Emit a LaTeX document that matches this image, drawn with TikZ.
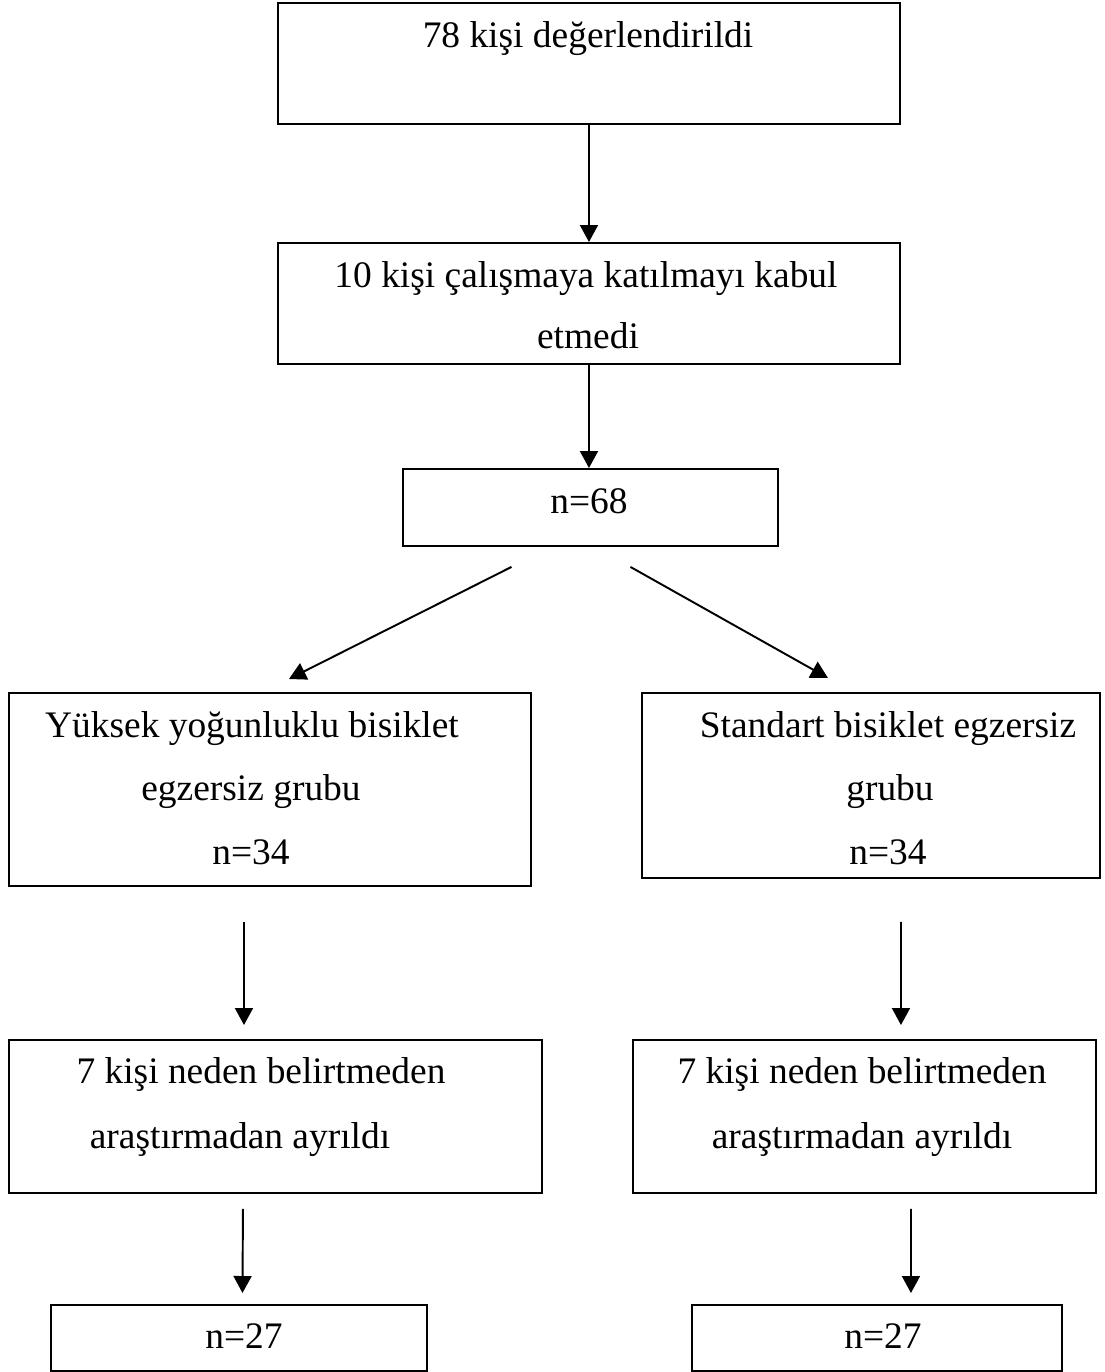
\documentclass[tikz,border=0pt]{standalone}
\usepackage{fontspec}
\setmainfont{Liberation Serif}
\usetikzlibrary{calc,arrows.meta}
\newcommand{\px}{0.02cm}
\tikzset{
  box/.style={draw=black, line width=1.1pt, rectangle, inner sep=0pt, anchor=north west},
  txt/.style={font=\fontsize{21.3}{25}\selectfont, inner sep=0pt, anchor=base},
  arr/.style={draw=black, line width=1.1pt, -{Triangle[length=0.34cm, width=0.36cm]}},
}
\begin{document}
\begin{tikzpicture}[x=\px, y=-\px]
  \useasboundingbox (0,0) rectangle (1105,1372);
  % boxes
  \node[box, minimum width=622*\px, minimum height=121*\px] (deg) at (277,2) {};
  \node[box, minimum width=622*\px, minimum height=121*\px] (kat) at (277,242) {};
  \node[box, minimum width=375*\px, minimum height=77*\px] (n68) at (402,468) {};
  \node[box, minimum width=522*\px, minimum height=193*\px] (yuk) at (8,692) {};
  \node[box, minimum width=458*\px, minimum height=185*\px] (std) at (641,692) {};
  \node[box, minimum width=533*\px, minimum height=153*\px] (ayrA) at (8,1039) {};
  \node[box, minimum width=463*\px, minimum height=153*\px] (ayrB) at (632,1039) {};
  \node[box, minimum width=376*\px, minimum height=66*\px] (sonA) at (50,1304) {};
  \node[box, minimum width=370*\px, minimum height=66*\px] (sonB) at (691,1304) {};
  % texts
  \node[txt] (degT) at (588,48) {78 kişi değerlendirildi};
  \node[txt] (katT1) at (586,287) {10 kişi çalışmaya katılmayı kabul};
  \node[txt] (katT2) at (588,348) {etmedi};
  \node[txt] (n68T) at (589,513) {n=68};
  \node[txt] (yukT1) at (252,737) {Yüksek yoğunluklu bisiklet};
  \node[txt] (yukT2) at (251,800) {egzersiz grubu};
  \node[txt] (yukT3) at (251,864) {n=34};
  \node[txt] (stdT1) at (888,737) {Standart bisiklet egzersiz};
  \node[txt] (stdT2) at (890,800) {grubu};
  \node[txt] (stdT3) at (888,864) {n=34};
  \node[txt] (ayrAT1) at (261,1083) {7 kişi neden belirtmeden};
  \node[txt] (ayrAT2) at (240,1148) {araştırmadan ayrıldı};
  \node[txt] (ayrBT1) at (862,1083) {7 kişi neden belirtmeden};
  \node[txt] (ayrBT2) at (862,1148) {araştırmadan ayrıldı};
  \node[txt] (sonAT) at (244,1348) {n=27};
  \node[txt] (sonBT) at (883,1348) {n=27};
  % arrows
  \draw[arr] (deg.south) -- (kat.north);
  \draw[arr] (kat.south) -- (kat.south |- n68.north);
  \draw[arr] ($(n68.south)+(-79,20)$) -- ($(yuk.north)+(19,-13)$);
  \draw[arr] ($(n68.south)+(40,20)$) -- ($(std.north)+(-43,-14)$);
  \draw[arr] ($(yuk.south)+(-26,35)$) -- ($(ayrA.north)+(-31.5,-14)$);
  \draw[arr] ($(std.south)+(30,43)$) -- ($(ayrB.north)+(36.5,-14)$);
  \draw[arr] ($(ayrA.south)+(-32.5,15)$) -- ($(sonA.north)+(3.5,-11)$);
  \draw[arr] ($(ayrB.south)+(46.5,15)$) -- ($(sonB.north)+(34,-11)$);
\end{tikzpicture}
\end{document}
